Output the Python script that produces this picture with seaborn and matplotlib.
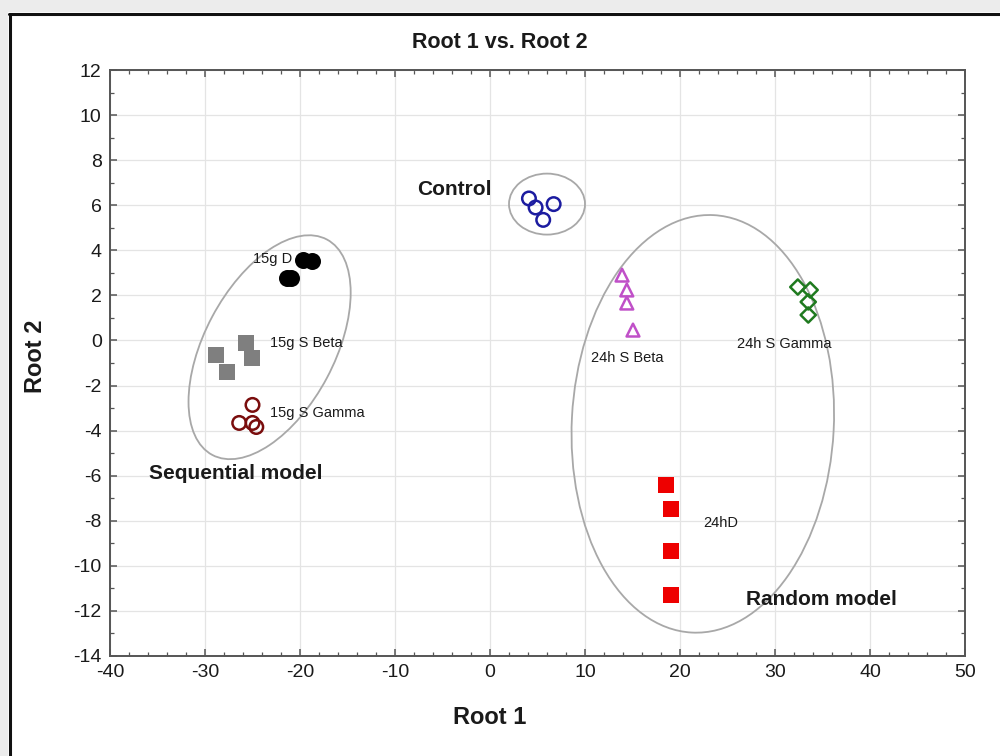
import matplotlib
matplotlib.use("Agg")
import matplotlib.pyplot as plt
from matplotlib.patches import Ellipse, Rectangle
from matplotlib.lines import Line2D
from matplotlib.transforms import ScaledTranslation
from matplotlib.ticker import MultipleLocator
import numpy as np
import pandas as pd
import seaborn as sns

# Discriminant scores (Root 1, Root 2) per group
control_x = [4.1, 4.8, 5.6, 6.7]
control_y = [6.3, 5.9, 5.35, 6.05]

d15_x = [-19.7, -18.7, -21.4, -20.9]
d15_y = [3.57, 3.53, 2.77, 2.77]

beta15_x = [-25.7, -28.8, -25.1, -27.7]
beta15_y = [-0.1, -0.64, -0.78, -1.4]

gamma15_x = [-25.0, -26.4, -25.0, -24.6]
gamma15_y = [-2.86, -3.66, -3.66, -3.84]

beta24_x = [13.9, 14.4, 14.4, 15.05]
beta24_y = [2.9, 2.24, 1.66, 0.46]

gamma24_x = [32.4, 33.7, 33.5, 33.5]
gamma24_y = [2.37, 2.24, 1.71, 1.13]

d24_x = [18.5, 19.05, 19.05, 19.05]
d24_y = [-6.41, -7.48, -9.34, -11.29]

group_names = ["Control", "15g D", "15g S Beta", "15g S Gamma",
               "24h S Beta", "24h S Gamma", "24hD"]

frames = []
for name, xs, ys in zip(group_names,
                        [control_x, d15_x, beta15_x, gamma15_x, beta24_x, gamma24_x, d24_x],
                        [control_y, d15_y, beta15_y, gamma15_y, beta24_y, gamma24_y, d24_y]):
    frames.append(pd.DataFrame({"Root 1": xs, "Root 2": ys, "group": name}))
df = pd.concat(frames, ignore_index=True)

sns.set_style("white")
plt.rcParams["font.family"] = ["Liberation Sans", "DejaVu Sans"]
plt.rcParams["axes.unicode_minus"] = False

fig = plt.figure(figsize=(10, 7.56), dpi=100)
fig.patch.set_facecolor("white")
ax = fig.add_axes([0.110, 0.1323, 0.855, 0.7751])

# marker style per group: (marker, color, filled, size)
styles = {
    "Control":     ("o", "#1c1ca0", False, 95),
    "15g D":       ("o", "#000000", True, 150),
    "15g S Beta":  ("s", "#7f7f7f", True, 125),
    "15g S Gamma": ("o", "#7a0d0d", False, 95),
    "24h S Beta":  ("^", "#c050c8", False, 85),
    "24h S Gamma": ("D", "#1f7a1f", False, 60),
    "24hD":        ("s", "#ee0000", True, 125),
}

for name in group_names:
    marker, color, filled, size = styles[name]
    sub = df[df["group"] == name]
    sns.scatterplot(data=sub, x="Root 1", y="Root 2", ax=ax, marker=marker,
                    s=size, color=color, linewidth=0 if filled else 1.8,
                    legend=False, zorder=3)
    coll = ax.collections[-1]
    if filled:
        coll.set_facecolor(color)
        coll.set_edgecolor(color)
    else:
        coll.set_facecolor("none")
        coll.set_edgecolor(color)
        coll.set_linewidth(1.8)

ax.set_xlim(-40, 50)
ax.set_ylim(-14, 12)
ax.xaxis.set_major_locator(MultipleLocator(10))
ax.xaxis.set_minor_locator(MultipleLocator(2))
ax.yaxis.set_major_locator(MultipleLocator(2))
ax.yaxis.set_minor_locator(MultipleLocator(1))
ax.grid(which="major", color="#e4e4e4", linewidth=0.9, zorder=0)
ax.set_axisbelow(True)
ax.tick_params(which="both", direction="in", top=True, right=True,
               bottom=True, left=True, color="#555555",
               labelsize=14, labelcolor="#1a1a1a", pad=6)
ax.tick_params(which="major", length=5, width=1.1)
ax.tick_params(which="minor", length=3, width=0.9)
for sp in ax.spines.values():
    sp.set_color("#555555")
    sp.set_linewidth(1.4)
ax.set_xlabel("")
ax.set_ylabel("")

# Grouping ellipses, sized in inches and centred on data points
ellipses = [
    (6.0, 6.05, 0.76, 0.61, 0),
    (-23.2, -0.30, 2.44, 1.30, 62),
    (22.4, -3.7, 4.18, 2.62, 87),
]
for cx, cy, w, h, ang in ellipses:
    tr = fig.dpi_scale_trans + ScaledTranslation(cx, cy, ax.transData)
    ax.add_patch(Ellipse((0, 0), w, h, angle=ang, transform=tr, fill=False,
                         edgecolor="#a8a8a8", linewidth=1.3, zorder=2))

# group labels
small = dict(fontsize=10.5, color="#1a1a1a", va="center", ha="left", zorder=4)
ax.text(-24.9, 3.6, "15g D", **small)
ax.text(-23.2, -0.11, "15g S Beta", **small)
ax.text(-23.2, -3.2, "15g S Gamma", **small)
ax.text(10.6, -0.78, "24h S Beta", **small)
ax.text(26.0, -0.16, "24h S Gamma", **small)
ax.text(22.4, -8.1, "24hD", **small)

big = dict(fontsize=15, fontweight="bold", color="#1a1a1a", va="center", ha="left", zorder=4)
ax.text(-7.7, 6.68, "Control", **big)
ax.text(-35.9, -5.92, "Sequential model", **big)
ax.text(27.0, -11.51, "Random model", **big)

fig.text(0.500, 1 - 43 / 756, "Root 1 vs. Root 2", fontsize=15.5, fontweight="bold",
         ha="center", va="center", color="#1a1a1a")
fig.text(0.490, 1 - 718 / 756, "Root 1", fontsize=17, fontweight="bold",
         ha="center", va="center", color="#1a1a1a")
fig.text(0.036, 1 - 356 / 756, "Root 2", fontsize=17, fontweight="bold",
         ha="center", va="center", rotation=90, color="#1a1a1a")

# outer frame with grey margin
fig.add_artist(Rectangle((0, 1 - 12 / 756), 1, 12 / 756, transform=fig.transFigure,
                         facecolor="#ececec", edgecolor="none", zorder=0))
fig.add_artist(Rectangle((0, 0), 8 / 1000, 1, transform=fig.transFigure,
                         facecolor="#ececec", edgecolor="none", zorder=0))
fig.add_artist(Line2D([9 / 1000, 1], [1 - 13.5 / 756, 1 - 13.5 / 756],
                      transform=fig.transFigure, color="#111111", linewidth=2.2))
fig.add_artist(Line2D([9.5 / 1000, 9.5 / 1000], [0, 1 - 13.5 / 756],
                      transform=fig.transFigure, color="#111111", linewidth=2.2))

fig.savefig("out.png", dpi=100)
